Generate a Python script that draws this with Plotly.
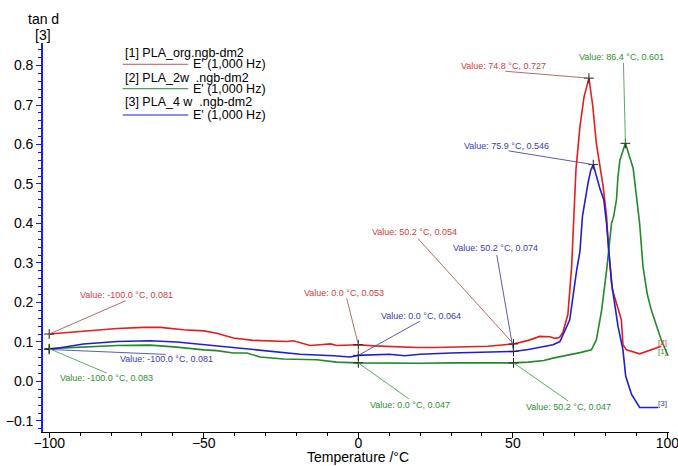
import plotly.graph_objects as go

# ---------------- data ----------------
red_t = [-100, -89, -78, -69.5, -64, -56.6, -50, -45.8, -40.4, -34, -27.5, -23, -21, -18, -15.6, -12.4,
         -9, -7, -3, 0, 5, 8, 12, 18.9, 25, 35, 42, 50.2, 55, 58.7, 62, 63.6, 65, 66.2, 67.8, 69, 69.7,
         70.4, 71.7, 73, 74.6, 75.8, 77, 79.2, 80.3, 81, 82.2, 83.7, 85.1, 85.6, 86.7, 91, 98]
red_v = [0.120, 0.127, 0.134, 0.137, 0.137, 0.131, 0.128, 0.122, 0.110, 0.104, 0.103, 0.101, 0.103, 0.097,
         0.091, 0.093, 0.095, 0.091, 0.092, 0.093, 0.090, 0.089, 0.088, 0.086, 0.086, 0.088, 0.089, 0.095,
         0.104, 0.114, 0.113, 0.109, 0.111, 0.125, 0.170, 0.290, 0.418, 0.536, 0.646, 0.720, 0.768, 0.700,
         0.603, 0.494, 0.418, 0.330, 0.232, 0.189, 0.156, 0.093, 0.080, 0.070, 0.089]

green_t = [-100, -88.9, -78, -67.3, -58.7, -50, -45.8, -40.4, -36, -31.8, -24.2, -13.4, -7, 0, 10, 20, 30,
           40, 50.2, 55, 60, 63, 68, 71.7, 75.4, 77, 78.7, 80.3, 81.9, 82.6, 83.5, 84, 84.6, 86.4, 88.9,
           90.2, 91, 92.1, 93.5, 94.8, 96.5, 98, 100.2]
green_v = [0.083, 0.087, 0.091, 0.092, 0.087, 0.080, 0.078, 0.072, 0.072, 0.062, 0.057, 0.055, 0.049, 0.047,
           0.046, 0.046, 0.047, 0.047, 0.047, 0.049, 0.053, 0.059, 0.066, 0.073, 0.080, 0.105, 0.180, 0.280,
           0.400, 0.418, 0.460, 0.519, 0.560, 0.603, 0.540, 0.460, 0.400, 0.290, 0.220, 0.180, 0.140, 0.105,
           0.065]

blue_t = [-100, -88.9, -78, -67.3, -58.7, -50, -40.4, -29.6, -18.8, -8, -2.7, 0, 5, 10, 15, 20, 30, 40,
          50.2, 55, 60, 63, 65.2, 68.4, 70.6, 71.7, 72.5, 73.3, 74.3, 75.2, 76, 78.1, 79.4, 80.3, 81.9,
          84, 85.6, 86.5, 88.4, 91, 97]
blue_v = [0.081, 0.095, 0.101, 0.103, 0.100, 0.093, 0.085, 0.076, 0.069, 0.065, 0.062, 0.066, 0.068, 0.069,
          0.065, 0.069, 0.072, 0.074, 0.076, 0.081, 0.088, 0.093, 0.101, 0.156, 0.280, 0.330, 0.418, 0.460,
          0.502, 0.535, 0.549, 0.490, 0.460, 0.400, 0.250, 0.140, 0.080, 0.013, -0.033, -0.066, -0.066]

# annotated points and their labels
red_mark_t = [-100, 0, 50.2, 74.6]
red_mark_v = [0.120, 0.093, 0.095, 0.768]
red_labels = ["Value: -100.0 °C, 0.081", "Value: 0.0 °C, 0.053", "Value: 50.2 °C, 0.054", "Value: 74.8 °C, 0.727"]

blue_mark_t = [-100, 0, 50.2, 76]
blue_mark_v = [0.081, 0.066, 0.076, 0.549]
blue_labels = ["Value: -100.0 °C, 0.081", "Value: 0.0 °C, 0.064", "Value: 50.2 °C, 0.074", "Value: 75.9 °C, 0.546"]

green_mark_t = [-100, 0, 50.2, 86.4]
green_mark_v = [0.083, 0.047, 0.047, 0.603]
green_labels = ["Value: -100.0 °C, 0.083", "Value: 0.0 °C, 0.047", "Value: 50.2 °C, 0.047", "Value: 86.4 °C, 0.601"]

legend_names = ["[1] PLA_org.ngb-dm2", "[2] PLA_2w\u00a0 .ngb-dm2", "[3] PLA_4 w\u00a0 .ngb-dm2"]
legend_sub = "E' (1,000 Hz)"
end_tags = ["[2]", "[1]", "[3]"]

x_title = "Temperature /°C"
y_title = "tan d"
y_unit = "[3]"

# ---------------- styles / layout positions ----------------
FONT = "Liberation Sans, Arial, sans-serif"
RED, GREEN, BLUE = "#e41e1e", "#23892a", "#1f1fd2"
RED_TXT, GREEN_TXT, BLUE_TXT = "#d23c3c", "#2e8f34", "#3a3ab4"
RED_LEAD, GREEN_LEAD, BLUE_LEAD = "#b05a5a", "#4f9f52", "#4a4aa0"

# pixel offsets (leader end, text centre) relative to the marked point
red_off = [((78, -34), (77, -39)), ((-12, -48), (-14, -52)), ((-97, -107), (-99, -112)), ((-85, -7), (-85, -12))]
blue_off = [((118, 5), (117, 10)), ((63, -35), (63, -39)), ((-17, -98), (-18, -103)), ((-86, -14), (-87, -19))]
green_off = [((59, 25), (57, 29)), ((52, 37), (52, 42)), ((56, 39), (55, 44)), ((-2, -82), (-4, -86))]

fig = go.Figure()
for t, v, c in [(red_t, red_v, RED), (green_t, green_v, GREEN), (blue_t, blue_v, BLUE)]:
    fig.add_trace(go.Scatter(x=t, y=v, mode="lines", line=dict(color=c, width=1.6),
                             showlegend=False, hoverinfo="skip"))

for mt, mv in [(red_mark_t, red_mark_v), (green_mark_t, green_mark_v), (blue_mark_t, blue_mark_v)]:
    fig.add_trace(go.Scatter(x=mt, y=mv, mode="markers",
                             marker=dict(symbol="cross-thin", size=7, line=dict(color="#222", width=1)),
                             showlegend=False, hoverinfo="skip"))

annotations = []
for mt, mv, labels, offs, lead_c, txt_c in [
        (red_mark_t, red_mark_v, red_labels, red_off, RED_LEAD, RED_TXT),
        (blue_mark_t, blue_mark_v, blue_labels, blue_off, BLUE_LEAD, BLUE_TXT),
        (green_mark_t, green_mark_v, green_labels, green_off, GREEN_LEAD, GREEN_TXT)]:
    for t, v, lab, ((lx, ly), (tx, ty)) in zip(mt, mv, labels, offs):
        annotations.append(dict(x=t, y=v, xref="x", yref="y", text="", showarrow=True,
                                arrowhead=0, arrowwidth=0.9, arrowcolor=lead_c, ax=lx, ay=ly,
                                standoff=0, startstandoff=0))
        annotations.append(dict(x=t, y=v, xref="x", yref="y", text=lab, showarrow=False,
                                xshift=tx, yshift=-ty, xanchor="center", yanchor="middle",
                                font=dict(family=FONT, size=9, color=txt_c)))

# end tags
for (t, v), tag, c, (dx, dy) in zip([(red_t[-1], red_v[-1]), (green_t[-1], green_v[-1]), (blue_t[-1], blue_v[-1])],
                                    end_tags, [RED_TXT, GREEN_TXT, BLUE_TXT], [(1, -4), (-6, -4), (4, -4)]):
    annotations.append(dict(x=t, y=v, xref="x", yref="y", text=tag, showarrow=False,
                            xshift=dx, yshift=-dy, font=dict(family=FONT, size=8, color=c)))

# axis titles
annotations.append(dict(x=0, y=1.061, xref="paper", yref="paper", text=y_title, showarrow=False,
                        xanchor="center", yanchor="middle", borderpad=0,
                        font=dict(family=FONT, size=14, color="black")))
annotations.append(dict(x=0, y=1.021, xref="paper", yref="paper", text=y_unit, showarrow=False,
                        xanchor="center", yanchor="middle", borderpad=0,
                        font=dict(family=FONT, size=14, color="black")))
annotations.append(dict(x=0.503, y=-0.064, xref="paper", yref="paper", text=x_title, showarrow=False,
                        xanchor="center", yanchor="middle", font=dict(family=FONT, size=14, color="black")))

# custom legend
shapes = []
leg_rows = [(0.975, 0.9453), (0.9108, 0.8825), (0.849, 0.8149)]
for name, (yt, yl), c in zip(legend_names, leg_rows, [RED_LEAD, GREEN, BLUE]):
    annotations.append(dict(x=0.1294, y=yt, xref="paper", yref="paper", text=name, showarrow=False,
                            xanchor="left", yanchor="middle", borderpad=0,
                            font=dict(family=FONT, size=12.5, color="black")))
    annotations.append(dict(x=0.2385, y=yl, xref="paper", yref="paper", text=legend_sub, showarrow=False,
                            xanchor="left", yanchor="middle", borderpad=0,
                            font=dict(family=FONT, size=12.5, color="black")))
    shapes.append(dict(type="line", xref="paper", yref="paper", x0=0.1273, x1=0.232, y0=yl, y1=yl,
                       line=dict(color=c, width=1)))

fig.update_layout(
    width=678, height=466,
    margin=dict(l=43, r=9, t=43, b=34, autoexpand=False),
    paper_bgcolor="white", plot_bgcolor="white",
    font=dict(family=FONT, size=14, color="black"),
    annotations=annotations, shapes=shapes,
    xaxis=dict(range=[-102, 100.5], tick0=0, dtick=50, ticks="outside", ticklen=5, tickwidth=1,
               tickcolor="black", showline=True, linecolor="black", linewidth=1, showgrid=False,
               zeroline=False, tickfont=dict(size=14, color="black"), automargin=False,
               ticklabeloverflow="allow", ticklabelstandoff=-7,
               minor=dict(dtick=10, ticks="outside", ticklen=3, tickcolor="black", showgrid=False)),
    yaxis=dict(range=[-0.128, 0.857], tick0=0, dtick=0.1, tickformat=".1f", ticks="outside", ticklen=5,
               tickwidth=1.2, tickcolor="#1a1aff", showline=True, linecolor="#1a1aff", linewidth=1.6,
               showgrid=False, zeroline=False, tickfont=dict(size=14, color="black"), automargin=False,
               minor=dict(dtick=0.02, ticks="outside", ticklen=3, tickcolor="#1a1aff", showgrid=False)),
)

fig.write_html("out.html", config={"displayModeBar": False},
               post_script="document.body.style.margin='0';")
